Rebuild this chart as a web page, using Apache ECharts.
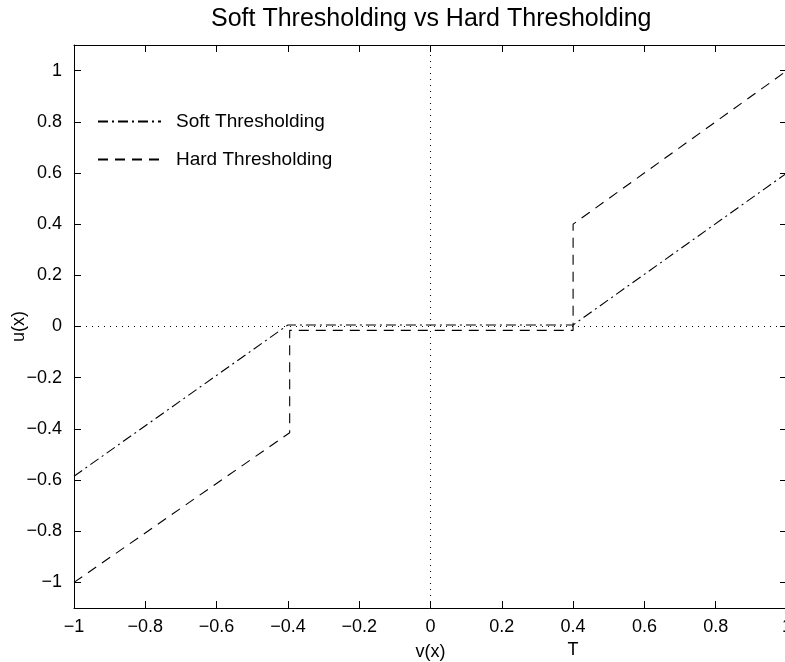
<!DOCTYPE html>
<html>
<head>
<meta charset="utf-8">
<script src="https://cdn.jsdelivr.net/npm/echarts@6/dist/echarts.min.js"></script>
<style>html,body{margin:0;padding:0;background:#fff}#c{width:785px;height:662px}</style>
</head>
<body>
<div id="c"></div>
<script>
const titleText = 'Soft Thresholding vs Hard Thresholding';
const xTicks = [-1, -0.8, -0.6, -0.4, -0.2, 0, 0.2, 0.4, 0.6, 0.8, 1];
const yTicks = [-1, -0.8, -0.6, -0.4, -0.2, 0, 0.2, 0.4, 0.6, 0.8, 1];
const thresholdTick = [0.4];
const thresholdLabel = 'T';
const softX = [-1, -0.4, 0.4, 1];
const softY = [-0.585, 0.006, 0.006, 0.6];
const hardX = [-1, -0.395, -0.395, 0.4, 0.4, 1];
const hardY = [-1, -0.415, -0.015, -0.015, 0.4, 1];
const zeroHX = [-1, 1];
const zeroHY = [0, 0];
const zeroVX = [0, 0];
const zeroVY = [-1.1, 1.1];

const FONT = '"Liberation Sans", Arial, sans-serif';
const fmt = v => {
  const r = Math.round(v * 10) / 10;
  return r < 0 ? '\u2212' + String(Math.abs(r)) : String(r);
};
const zip = (a, b) => a.map((x, i) => [x, b[i]]);

const chart = echarts.init(document.getElementById('c'));
const axisBase = {
  type: 'value',
  axisLine: { show: true, onZero: false, lineStyle: { color: '#000', width: 1 } },
  splitLine: { show: false },
};
chart.setOption({
  backgroundColor: '#fff',
  animation: false,
  title: {
    text: titleText, left: 206, top: 2,
    textStyle: { fontFamily: FONT, fontSize: 25, fontWeight: 'normal', color: '#000' }
  },
  legend: {
    data: ['Soft Thresholding', 'Hard Thresholding'],
    orient: 'vertical', left: 92, top: 107,
    itemWidth: 63, itemHeight: 14, itemGap: 19,
    itemStyle: { opacity: 0 },
    textStyle: { fontFamily: FONT, fontSize: 19, color: '#000', padding: [0, 0, 0, 10] }
  },
  grid: { left: 74, right: -2, top: 45, bottom: 54, containLabel: false, outerBoundsMode: 'none' },
  xAxis: [
    Object.assign({}, axisBase, {
      min: -1, max: 1, interval: 0.2, position: 'bottom',
      name: 'v(x)', nameLocation: 'middle', nameGap: 35, nameMoveOverlap: false,
      nameTextStyle: { fontFamily: FONT, fontSize: 18, color: '#000' },
      axisTick: { show: true, inside: true, length: 7, customValues: xTicks, lineStyle: { color: '#000' } },
      axisLabel: { show: true, customValues: xTicks, formatter: fmt, margin: 10, fontFamily: FONT, fontSize: 18, color: '#000' }
    }),
    Object.assign({}, axisBase, {
      min: -1, max: 1, interval: 0.2, position: 'top',
      axisTick: { show: true, inside: true, length: 7, customValues: xTicks, lineStyle: { color: '#000' } },
      axisLabel: { show: false }
    }),
    Object.assign({}, axisBase, {
      min: -1, max: 1, position: 'bottom', offset: 23,
      axisLine: { show: false },
      axisTick: { show: false },
      axisLabel: { show: true, customValues: thresholdTick, formatter: () => thresholdLabel, margin: 10, fontFamily: FONT, fontSize: 18, color: '#000' }
    })
  ],
  yAxis: [
    Object.assign({}, axisBase, {
      min: -1.1, max: 1.1, position: 'left',
      name: 'u(x)', nameLocation: 'middle', nameGap: 46, nameRotate: 90, nameMoveOverlap: false,
      nameTextStyle: { fontFamily: FONT, fontSize: 18, color: '#000' },
      axisTick: { show: true, inside: true, length: 7, customValues: yTicks, lineStyle: { color: '#000' } },
      axisLabel: { show: true, customValues: yTicks, formatter: fmt, margin: 12, fontFamily: FONT, fontSize: 18, color: '#000' }
    }),
    Object.assign({}, axisBase, {
      min: -1.1, max: 1.1, position: 'right',
      axisTick: { show: true, inside: true, length: 7, customValues: yTicks, lineStyle: { color: '#000' } },
      axisLabel: { show: false }
    })
  ],
  series: [
    {
      name: 'zeroH', type: 'line', xAxisIndex: 0, yAxisIndex: 0, silent: true,
      symbol: 'none', data: zip(zeroHX, zeroHY),
      lineStyle: { color: '#000', width: 1, type: [1, 5] }
    },
    {
      name: 'zeroV', type: 'line', xAxisIndex: 0, yAxisIndex: 0, silent: true,
      symbol: 'none', data: zip(zeroVX, zeroVY),
      lineStyle: { color: '#000', width: 1, type: [1, 5] }
    },
    {
      name: 'Soft Thresholding', type: 'line', xAxisIndex: 0, yAxisIndex: 0,
      symbol: 'none', data: zip(softX, softY), color: '#000',
      lineStyle: { color: '#000', width: 1.1, type: [10, 4, 2, 4] }
    },
    {
      name: 'Hard Thresholding', type: 'line', xAxisIndex: 0, yAxisIndex: 0,
      symbol: 'none', data: zip(hardX, hardY), color: '#000',
      lineStyle: { color: '#000', width: 1.1, type: [10, 7] }
    }
  ]
});
</script>
</body>
</html>
